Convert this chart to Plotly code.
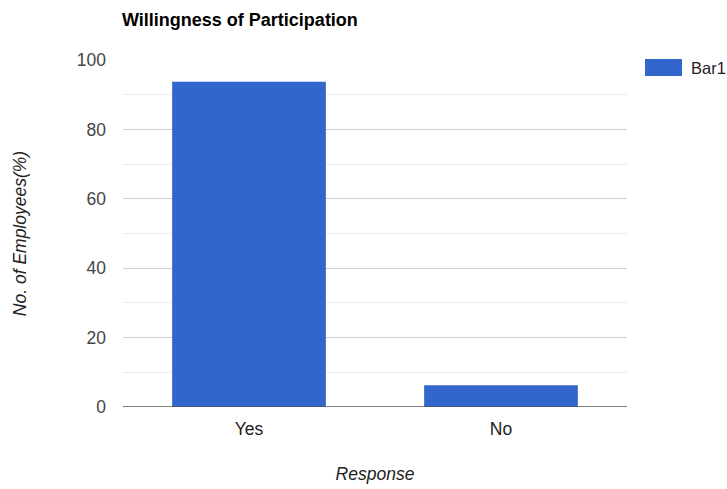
import plotly.graph_objects as go

# Survey responses
categories = ["Yes", "No"]
bar1_values = [93.75, 6.25]
series_name = "Bar1"
y_ticks = [0, 20, 40, 60, 80, 100]

BAR_COLOR = "#3366cc"
FONT = "Liberation Sans, Arial, sans-serif"
TXT = 17.5

fig = go.Figure()
fig.add_trace(go.Bar(
    x=categories,
    y=bar1_values,
    name=series_name,
    marker=dict(color=BAR_COLOR, line=dict(width=0)),
    width=0.61,
    showlegend=False,
))

fig.update_layout(
    width=727,
    height=489,
    margin=dict(l=123, r=100, t=60, b=82),
    paper_bgcolor="white",
    plot_bgcolor="white",
    font=dict(family=FONT, size=TXT, color="#444444"),
    title=dict(
        text="<b>Willingness of Participation</b>",
        x=122 / 727, xanchor="left",
        y=1 - 20 / 489, yanchor="middle",
        font=dict(family=FONT, size=18, color="#000000"),
    ),
    xaxis=dict(
        automargin=False,
        showgrid=False,
        showline=False,
        zeroline=False,
        ticks="",
        tickfont=dict(size=TXT, color="#222222"),
        ticklabelstandoff=9,
        title=dict(text="<i>Response</i>", font=dict(size=TXT, color="#222222"), standoff=30),
    ),
    yaxis=dict(
        automargin=False,
        range=[0, 100],
        tickvals=y_ticks,
        showgrid=True,
        gridcolor="#d0d0d0",
        gridwidth=1,
        minor=dict(dtick=10, showgrid=True, gridcolor="#ececec", gridwidth=1),
        zeroline=False,
        showline=False,
        ticks="",
        tickfont=dict(size=TXT, color="#444444"),
        ticklabelstandoff=16,
        title=dict(text="<i>No. of Employees(%)</i>", font=dict(size=TXT, color="#222222"), standoff=45),
    ),
)

# Baseline at zero
fig.add_shape(type="line", xref="paper", yref="y", x0=0, x1=1, y0=0, y1=0,
              line=dict(color="#555555", width=1.5))

# Legend swatch and label
fig.add_shape(type="rect", xref="paper", yref="paper",
              x0=(645 - 123) / 504, x1=(682 - 123) / 504,
              y0=(407 - 76) / 347, y1=(407 - 59) / 347,
              fillcolor=BAR_COLOR, line=dict(width=0))
fig.add_annotation(text=series_name, xref="paper", yref="paper",
                   x=(689 - 123) / 504, y=(407 - 67.5) / 347,
                   xanchor="left", yanchor="middle", showarrow=False,
                   font=dict(family=FONT, size=16.5, color="#222222"))

fig.write_html("out.html")
